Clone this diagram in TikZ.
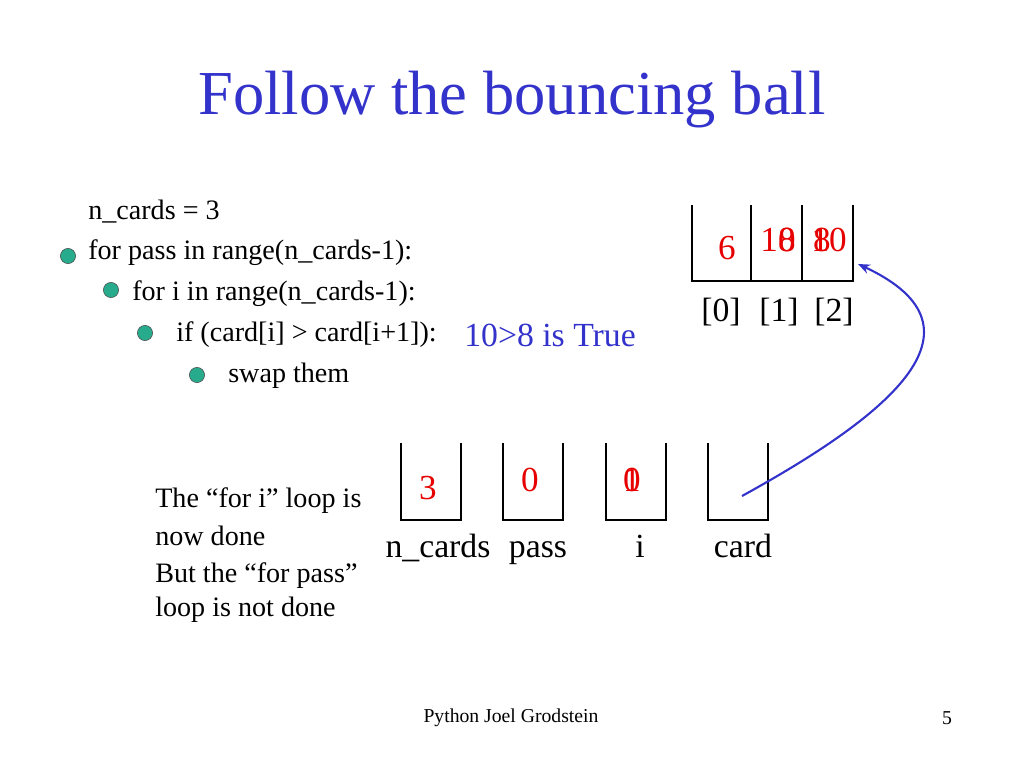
\documentclass[tikz,border=0pt]{standalone}
\usepackage{fontspec}
\setmainfont{Liberation Serif}
\usetikzlibrary{positioning,arrows.meta}
\definecolor{titleblue}{RGB}{51,51,204}
\definecolor{bullteal}{RGB}{40,170,140}
\definecolor{valred}{RGB}{230,0,0}
\tikzset{
  code/.style={anchor=west, inner sep=0pt, font=\fontsize{20}{22}\selectfont},
  bull/.style={circle, draw=black!70, fill=bullteal, minimum size=3.8mm, inner sep=0pt},
  val/.style={text=valred, inner sep=0pt, font=\fontsize{25}{27}\selectfont},
  lbl/.style={inner sep=0pt, font=\fontsize{24}{26}\selectfont},
  note/.style={anchor=west, inner sep=0pt, font=\fontsize{20}{22}\selectfont},
  box/.style={line width=2pt}
}
\begin{document}
\begin{tikzpicture}[x=0.25mm,y=-0.25mm]
        \useasboundingbox (0,0) rectangle (1024,768);
        \node[text=titleblue, font=\fontsize{44.5}{48}\selectfont] at (512,100) (title) {Follow the bouncing ball};
        % code lines
        \node[code] at (88,212) (l1) {n\_cards = 3};
        \node[code] at (88,253) (l2) {for pass in range(n\_cards-1):};
        \node[code] at (132,294) (l3) {for i in range(n\_cards-1):};
        \node[code] at (176,335) (l4) {if (card[i] > card[i+1]):};
        \node[code] at (228,376) (l5) {swap them};
        \node[bull] at (68,256) (b2) {};
        \node[bull] at (111,290) (b3) {};
        \node[bull] at (145,333) (b4) {};
        \node[bull] at (197,375) (b5) {};
        \node[text=titleblue, anchor=west, inner sep=0pt, font=\fontsize{24}{26}\selectfont] at (464,335) (cmp) {10>8 is True};
        % card array
        \draw[box] (692,205) -- (692,281) -- (853,281) -- (853,205);
        \draw[box] (751,205) -- (751,281);
        \draw[box] (802,205) -- (802,281);
        \node[val] at (727,248) (c0) {6};
        \node[val] at (778,240) (c1a) {10};
        \node[val] at (787,240) (c1b) {8};
        \node[val] at (829,240) (c2a) {10};
        \node[val] at (822,240) (c2b) {8};
        \node[lbl] at (721,312) (i0) {[0]};
        \node[lbl] at (779,312) (i1) {[1]};
        \node[lbl] at (834,312) (i2) {[2]};
        % variable boxes
        \foreach \x in {401,503,606,708}
          \draw[box] (\x,443) -- (\x,520) -- (\x+60,520) -- (\x+60,443);
        \node[val] at (428,488) (vn) {3};
        \node[val] at (530,480) (vp) {0};
        \node[val] at (632,480) (vi0) {0};
        \node[val] at (632,480) (vi1) {1};
        \coordinate (vc) at (742,496);
        \node[lbl, anchor=base] at (438,557) (ln) {n\_cards};
        \node[lbl, anchor=base] at (538,557) (lp) {pass};
        \node[lbl, anchor=base] at (640,557) (li) {i};
        \node[lbl, anchor=base] at (743,557) (lc) {card};
        \draw[-{Stealth[length=3mm,width=2.4mm]}, titleblue, line width=1.5pt] (vc) .. controls (880,420) and (1000,330) .. (858,264);
        % notes
        \node[note] at (155,501) (n1) {The “for i” loop is};
        \node[note] at (155,536) (n2) {now done};
        \node[note] at (155,576) (n3) {But the “for pass”};
        \node[note] at (155,610) (n4) {loop is not done};
        \node[font=\fontsize{14}{16}\selectfont] at (511,718) (foot) {Python Joel Grodstein};
        \node[font=\fontsize{14}{16}\selectfont] at (947,718) (page) {5};
\end{tikzpicture}
\end{document}
